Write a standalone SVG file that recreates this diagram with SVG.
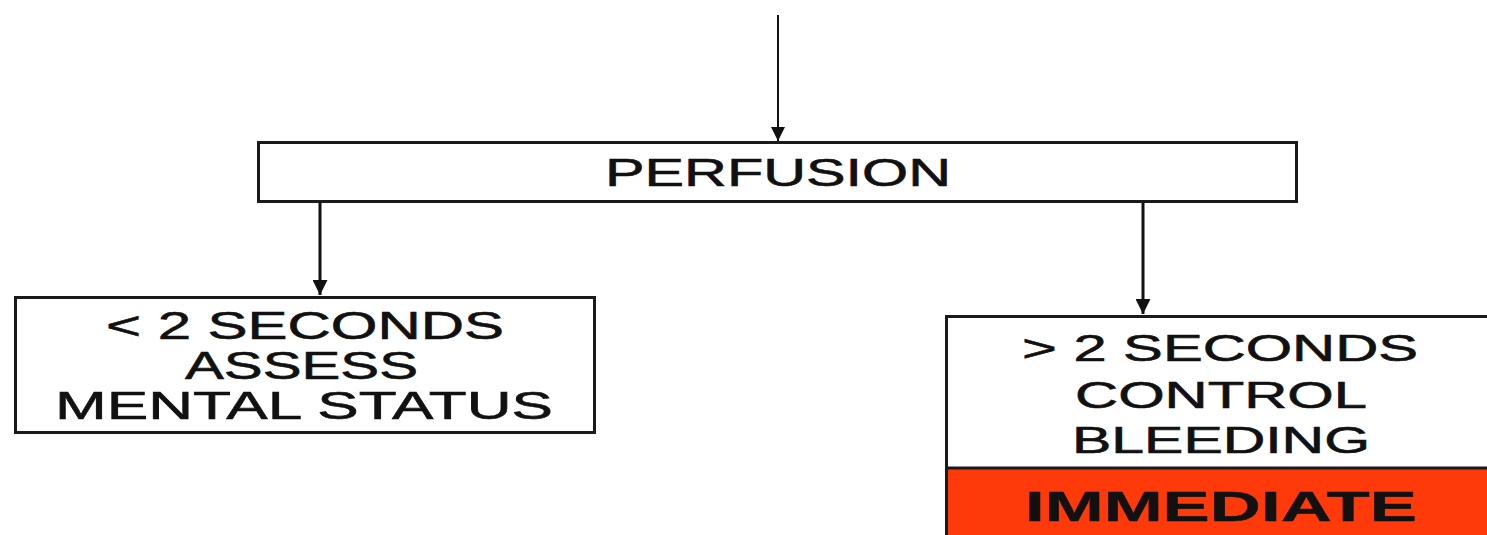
<svg xmlns="http://www.w3.org/2000/svg" width="1487" height="535" viewBox="0 0 1487 535">
<defs>
<marker id="ah" viewBox="0 0 10 10" refX="10" refY="5" markerWidth="5" markerHeight="5" markerUnits="strokeWidth" orient="auto">
<path d="M0,0 L10,5 L0,10 z" fill="#111"/>
</marker>
<marker id="ah2" viewBox="0 0 10 10" refX="10" refY="5" markerWidth="7" markerHeight="7" markerUnits="strokeWidth" orient="auto">
<path d="M0,0 L10,5 L0,10 z" fill="#111"/>
</marker>
<style>
.box{fill:#fff;stroke:#1a1a1a;stroke-width:3}
.t{font-family:"Liberation Sans",Arial,sans-serif;fill:#111;stroke:#111;stroke-width:0.6;text-anchor:start}
.b{font-weight:bold;stroke-width:0.4}
.c{stroke:#111;fill:none}
</style>
</defs>
<rect width="1487" height="535" fill="#fff"/>
<g id="connectors">
<line class="c" x1="778" y1="15" x2="778" y2="141" stroke-width="2" marker-end="url(#ah2)"/>
<line class="c" x1="320" y1="202" x2="320" y2="295" stroke-width="3" marker-end="url(#ah)"/>
<line class="c" x1="1143" y1="202" x2="1143" y2="314" stroke-width="3" marker-end="url(#ah)"/>
</g>
<g id="perfusion">
<rect class="box" x="258.5" y="142.5" width="1038" height="59"/>
<text class="t" x="605" y="186" font-size="38" textLength="346" lengthAdjust="spacingAndGlyphs">PERFUSION</text>
</g>
<g id="less-than-2">
<rect class="box" x="15.5" y="297.5" width="579" height="135"/>
<text class="t" x="106" y="339" font-size="38" textLength="398" lengthAdjust="spacingAndGlyphs">&lt; 2 SECONDS</text>
<text class="t" x="185" y="379" font-size="38" textLength="233" lengthAdjust="spacingAndGlyphs">ASSESS</text>
<text class="t" x="55" y="419" font-size="38" textLength="498" lengthAdjust="spacingAndGlyphs">MENTAL STATUS</text>
</g>
<g id="greater-than-2">
<rect class="box" x="946.5" y="316.5" width="560" height="240"/>
<rect x="948" y="469" width="560" height="70" fill="#ff3a0a"/>
<line x1="946" y1="468" x2="1487" y2="468" stroke="#1a1a1a" stroke-width="3"/>
<line x1="946.5" y1="316" x2="946.5" y2="535" stroke="#1a1a1a" stroke-width="3"/>
<text class="t" x="1022" y="361" font-size="36" textLength="396" lengthAdjust="spacingAndGlyphs">&gt; 2 SECONDS</text>
<text class="t" x="1075" y="408" font-size="36" textLength="292" lengthAdjust="spacingAndGlyphs">CONTROL</text>
<text class="t" x="1072" y="453" font-size="36" textLength="298" lengthAdjust="spacingAndGlyphs">BLEEDING</text>
<text class="t b" x="1025" y="521" font-size="43" textLength="392" lengthAdjust="spacingAndGlyphs">IMMEDIATE</text>
</g>
</svg>
